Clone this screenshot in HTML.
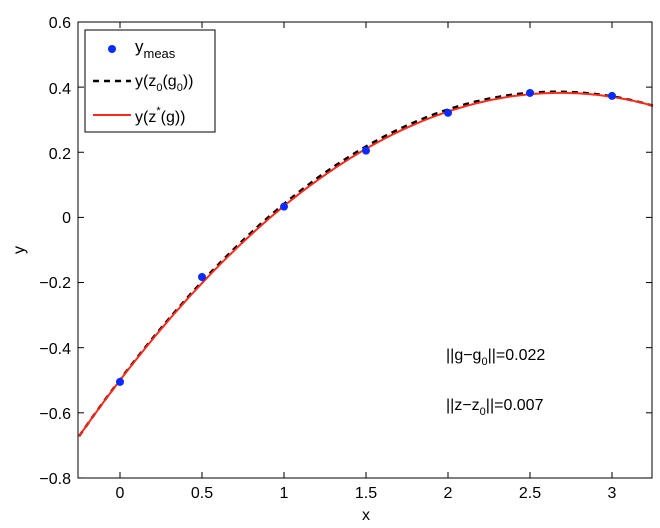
<!DOCTYPE html><html><head><style>body{margin:0;background:#fff}svg{display:block;font-family:"Liberation Sans",sans-serif}</style></head><body>
<svg id="s" width="660" height="528" xmlns="http://www.w3.org/2000/svg">
<rect width="660" height="528" fill="#fff"/>
<g id="g"></g>
<rect x="78" y="22" width="574" height="456" fill="none" stroke="#000" stroke-width="1"/>
<g font-size="16" fill="#000" text-anchor="middle">
<text x="120" y="498">0</text><text x="202" y="498">0.5</text><text x="284" y="498">1</text><text x="366" y="498">1.5</text><text x="448" y="498">2</text><text x="530" y="498">2.5</text><text x="612" y="498">3</text>
<text x="366" y="520">x</text>
</g>
<g font-size="16" fill="#000" text-anchor="end">
<text x="71" y="28">0.6</text><text x="71" y="94">0.4</text><text x="71" y="159">0.2</text><text x="71" y="223">0</text><text x="71" y="288">−0.2</text><text x="71" y="354">−0.4</text><text x="71" y="419">−0.6</text><text x="71" y="484">−0.8</text>
</g>
<text x="24" y="250" font-size="16" text-anchor="middle" transform="rotate(-90 24 250)">y</text>
<text x="446" y="360" font-size="16">||g−g<tspan font-size="11" dy="5">0</tspan><tspan dy="-5">||=0.022</tspan></text>
<text x="446" y="410" font-size="16">||z−z<tspan font-size="11" dy="5">0</tspan><tspan dy="-5">||=0.007</tspan></text>
<rect x="85" y="30" width="130" height="102" fill="#fff" stroke="#000"/>
<circle cx="112" cy="49" r="4" fill="#0a2bff"/>
<text x="135" y="52" font-size="17">y<tspan font-size="13" dy="6">meas</tspan></text>
<line x1="93" y1="81" x2="131" y2="81" stroke="#000" stroke-width="2.5" stroke-dasharray="6,5"/>
<text x="135" y="86" font-size="16">y(z<tspan font-size="11" dy="5">0</tspan><tspan dy="-5">(g</tspan><tspan font-size="11" dy="5">0</tspan><tspan dy="-5">))</tspan></text>
<line x1="93" y1="115" x2="131" y2="115" stroke="#ff2a1a" stroke-width="2"/>
<text x="135" y="122" font-size="16">y(z<tspan font-size="11" dy="-8">*</tspan><tspan dy="8">(g))</tspan></text>
</svg>
<script>
var X=x=>120+164*x,Y=y=>217.4-325.7*y,g=document.getElementById('g'),h='';
[0,0.5,1,1.5,2,2.5,3].forEach(v=>{h+=`<line x1="${X(v)}" y1="478" x2="${X(v)}" y2="472" stroke="#000"/><line x1="${X(v)}" y1="22" x2="${X(v)}" y2="28" stroke="#000"/>`});
[0.6,0.4,0.2,0,-0.2,-0.4,-0.6,-0.8].forEach(v=>{h+=`<line x1="78" y1="${Y(v)}" x2="84" y2="${Y(v)}" stroke="#000"/><line x1="652" y1="${Y(v)}" x2="646" y2="${Y(v)}" stroke="#000"/>`});
function p(f){var s='';for(var x=-0.25;x<=3.2501;x+=0.02)s+=(s?'L':'M')+X(x).toFixed(1)+','+Y(f(x)).toFixed(1);return s}
var r=x=>0.035+0.29*(x-1)-0.1225*(x-1)*(x-2), b=x=>r(x)+0.007*Math.sin(Math.PI*(x+0.25)/3.5);
h+=`<path d="${p(b)}" fill="none" stroke="#000" stroke-width="2.5" stroke-dasharray="6,5"/>`;
h+=`<path d="${p(r)}" fill="none" stroke="#ff2a1a" stroke-width="2"/>`;
[[0,-0.505],[0.5,-0.183],[1,0.033],[1.5,0.205],[2,0.321],[2.5,0.382],[3,0.373]].forEach(d=>{h+=`<circle cx="${X(d[0])}" cy="${Y(d[1])}" r="4" fill="#0a2bff"/>`});
g.innerHTML=h;
</script>
</body></html>
